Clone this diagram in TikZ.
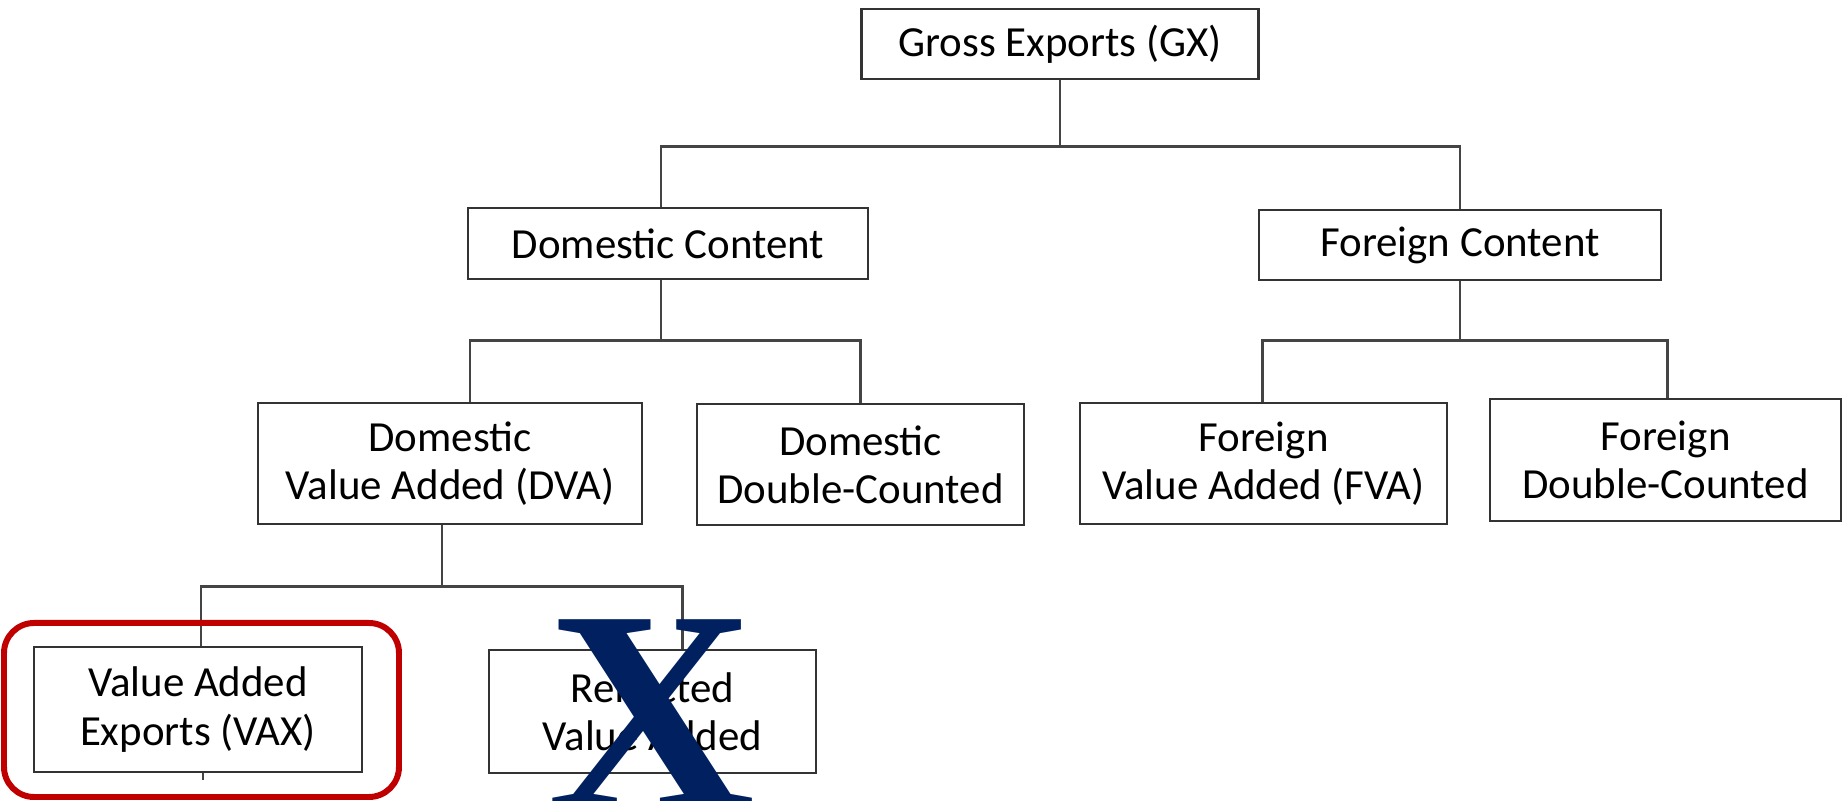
\documentclass[tikz,border=0pt]{standalone}
\usepackage{fontspec}
\setmainfont{Carlito}
\newfontfamily\crossfont{Liberation Serif}
\definecolor{boxline}{HTML}{333333}
\definecolor{connline}{HTML}{444444}
\definecolor{hlred}{HTML}{C00000}
\definecolor{navy}{HTML}{002060}
\tikzset{
  treebox/.style={draw=boxline, line width=0.75pt, fill=white, inner sep=0pt, align=center,
    font=\fontsize{12.2}{13.7}\selectfont},
  conn/.style={draw=connline, line width=0.7pt}
}
\begin{document}
\begin{tikzpicture}[x=0.01cm,y=-0.01cm]
\useasboundingbox (0,0) rectangle (1847,801);

% boxes
\node[treebox, minimum width=3.97cm, minimum height=0.70cm] (gx) at (1060,44) {Gross Exports (GX)};
\node[treebox, minimum width=4.00cm, minimum height=0.71cm] (dc) at (668,243.5) {Domestic Content};
\node[treebox, minimum width=4.02cm, minimum height=0.70cm] (fc) at (1460,245) {Foreign Content};
\node[treebox, minimum width=3.84cm, minimum height=1.21cm] (dva) at (450,463.5) {Domestic\\Value Added (DVA)};
\node[treebox, minimum width=3.27cm, minimum height=1.21cm] (ddc) at (860.5,464.5) {Domestic\\Double-Counted};
\node[treebox, minimum width=3.67cm, minimum height=1.21cm] (fva) at (1263.5,463.5) {Foreign\\Value Added (FVA)};
\node[treebox, minimum width=3.51cm, minimum height=1.22cm] (fdc) at (1665.5,460) {Foreign\\Double-Counted};
\node[treebox, minimum width=3.28cm, minimum height=1.25cm] (vax) at (198,709.5) {Value Added\\Exports (VAX)};
\node[treebox, minimum width=3.27cm, minimum height=1.23cm] (rva) at (652.5,711.5) {Reflected\\Value Added};

% level 1
\draw[conn] (gx.south) -- ++(0,66) coordinate (b1);
\draw[conn] (b1) -| ([xshift=-0.07cm]dc.north);
\draw[conn] (b1) -| (fc.north);
% level 2 left
\draw[conn] ([xshift=-0.07cm]dc.south) -- ++(0,60) coordinate (b2);
\draw[conn] (b2) -| ([xshift=0.20cm]dva.north);
\draw[conn] (b2) -| (ddc.north);
% level 2 right
\draw[conn] (fc.south) -- ++(0,59) coordinate (b3);
\draw[conn] (b3) -| ([xshift=-0.01cm]fva.north);
\draw[conn] (b3) -| ([xshift=0.02cm]fdc.north);
% level 3
\draw[conn] ([xshift=-0.08cm]dva.south) -- ++(0,61) coordinate (b4);
\draw[conn] (b4) -| ([xshift=0.03cm]vax.north);
\draw[conn] (b4) -| ([xshift=0.30cm]rva.north);
\draw[conn] ([xshift=0.05cm]vax.south) -- ++(0,7);

% highlight and cross
\draw[hlred, line width=1.7pt, rounded corners=0.30cm] (4,623) rectangle (399,797);
\node[inner sep=0pt, anchor=base, text=navy, font=\crossfont\bfseries\fontsize{82}{82}\selectfont] (cross) at (652,809) {X};
\end{tikzpicture}
\end{document}
